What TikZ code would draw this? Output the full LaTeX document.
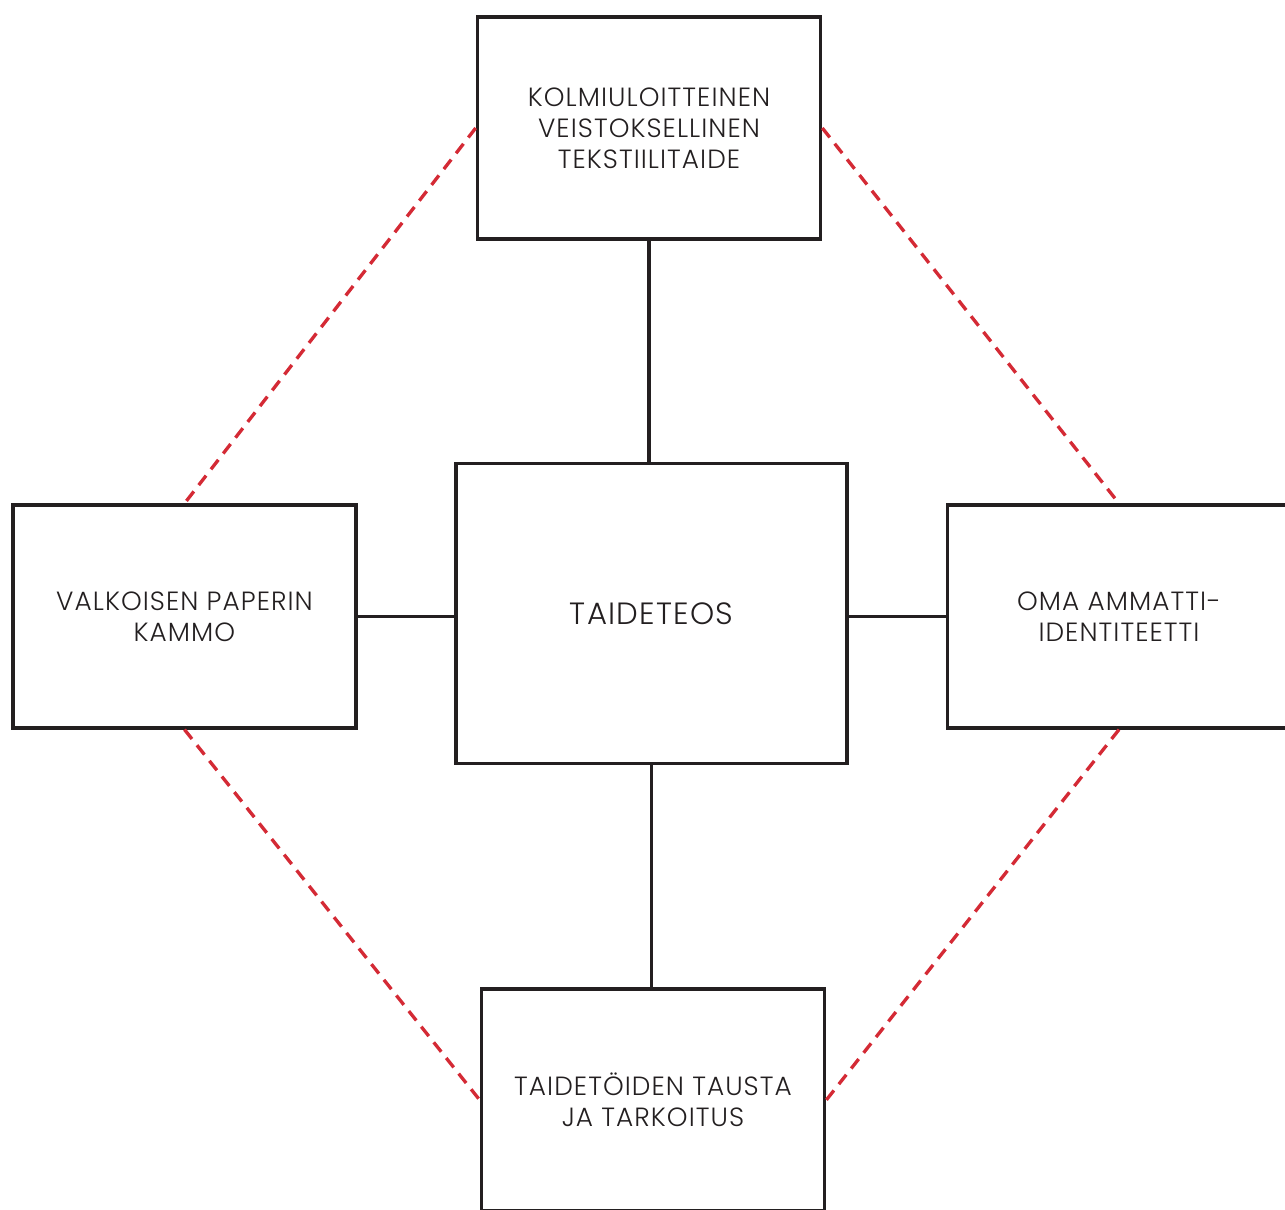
\documentclass[tikz,border=0pt]{standalone}
\usepackage{fontspec}
\setmainfont{Poppins}[UprightFont=* Light, LetterSpace=4]
\definecolor{dashred}{HTML}{D42A35}
\definecolor{boxline}{HTML}{231F20}

\begin{document}
\begin{tikzpicture}[x=0.02cm, y=-0.02cm,
    every node/.style={font=\fontsize{15}{17.6}\selectfont, align=center, text=boxline},
    topicbox/.style={rectangle, draw=boxline, line width=2.1pt, minimum width=6.86cm, minimum height=4.45cm, inner sep=0pt},
    link/.style={draw=boxline, line width=2.1pt},
    redlink/.style={draw=dashred, line width=1.9pt, dash pattern=on 0.24cm off 0.16cm}]
    \clip (0,0) rectangle (1285,1210);
    \useasboundingbox (0,0) rectangle (1285,1210);

    \node[topicbox, minimum width=7.83cm, minimum height=6.0cm] (teos) at (651.5,613.5) {\fontsize{17.5}{22}\selectfont TAIDETEOS};
    \node[topicbox] (veisto) at (649,128) {KOLMIULOITTEINEN\\VEISTOKSELLINEN\\TEKSTIILITAIDE};
    \node[topicbox] (paperi) at (184.5,616.5) {VALKOISEN PAPERIN\\KAMMO};
    \node[topicbox] (identiteetti) at (1119,616.5) {OMA AMMATTI-\\IDENTITEETTI};
    \node[topicbox] (tausta) at (653,1100) {TAIDETÖIDEN TAUSTA\\JA TARKOITUS};

    \draw[link] (veisto.south) -- (veisto.south |- teos.north);
    \draw[link] (teos.south) -- (teos.south |- tausta.north);
    \draw[link] (paperi.east) -- (paperi.east -| teos.west);
    \draw[link] (teos.east |- identiteetti.west) -- (identiteetti.west);

    \draw[redlink] (veisto.west) -- (paperi.north);
    \draw[redlink] (veisto.east) -- (identiteetti.north);
    \draw[redlink] (paperi.south) -- (tausta.west);
    \draw[redlink] (identiteetti.south) -- (tausta.east);
\end{tikzpicture}
\end{document}
